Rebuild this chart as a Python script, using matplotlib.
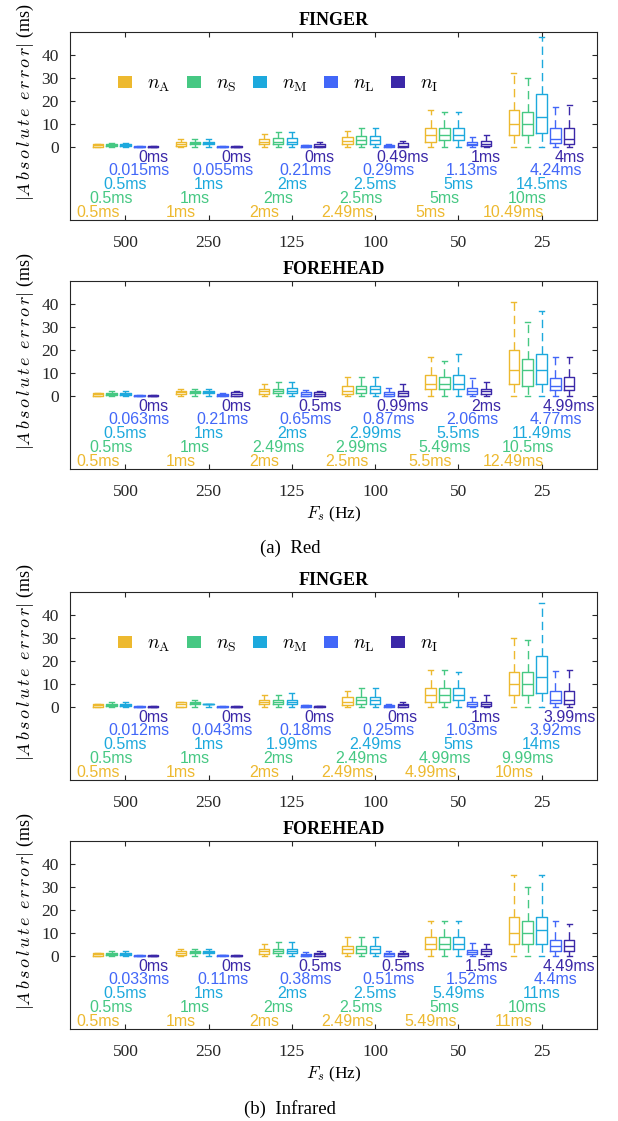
import numpy as np
import matplotlib
matplotlib.use('Agg')
import matplotlib.pyplot as plt
from matplotlib.patches import Patch

plt.rcParams['font.family'] = 'serif'
plt.rcParams['font.serif'] = ['Liberation Serif', 'DejaVu Serif']
plt.rcParams['mathtext.fontset'] = 'cm'
plt.rcParams['lines.scale_dashes'] = False

freqs = ['500', '250', '125', '100', '50', '25']
names = [r'$n_{\mathrm{A}}$', r'$n_{\mathrm{S}}$', r'$n_{\mathrm{M}}$', r'$n_{\mathrm{L}}$', r'$n_{\mathrm{I}}$']
colors = ['#EDB92F', '#46C883', '#1DA9DD', '#4267F8', '#3B28A8']

# ---- Red, finger (rows: nA, nS, nM, nL, nI ; cols: 500..25 Hz)
rf_q1 = [[0, 0.3, 1, 1, 2, 5], [0.2, 1, 1, 1, 3, 5], [0.2, 1, 1, 1, 3, 6],
         [0, 0, 0, 0, 0.7, 1.4], [0, 0, 0, 0, 0.4, 1]]
rf_med = [[0.5, 1, 2.2, 2.5, 5, 10], [0.5, 1.5, 2, 2.9, 5, 10], [0.5, 1.5, 2, 2.9, 5, 13],
          [0, 0, 0.2, 0.2, 1.3, 3.2], [0, 0, 0.3, 0.4, 1.3, 3.2]]
rf_q3 = [[1, 2.2, 3.2, 4, 8, 16], [1, 2, 3.6, 4.6, 8, 15], [1, 2, 3.6, 4.6, 8, 23],
         [0.1, 0.1, 0.6, 0.7, 2.2, 8], [0.1, 0.1, 1.2, 1.4, 2.6, 8]]
rf_hi = [[1.2, 3.3, 5.3, 7, 16, 32], [1.8, 3.3, 6.2, 8.2, 15, 30], [1.8, 3.3, 6.2, 8.2, 15, 48],
         [0.1, 0.1, 0.8, 1, 4.3, 17.4], [0.1, 0.1, 2.2, 2.4, 5, 18]]
rf_text = [['0.5ms', '1ms', '2ms', '2.49ms', '5ms', '10.49ms'],
           ['0.5ms', '1ms', '2ms', '2.5ms', '5ms', '10ms'],
           ['0.5ms', '1ms', '2ms', '2.5ms', '5ms', '14.5ms'],
           ['0.015ms', '0.055ms', '0.21ms', '0.29ms', '1.13ms', '4.24ms'],
           ['0ms', '0ms', '0ms', '0.49ms', '1ms', '4ms']]

# ---- Red, forehead
rh_q1 = [[0, 0.5, 0.5, 0.5, 3, 5], [0.2, 1, 1, 1, 3, 4], [0.2, 1, 1, 1, 3, 5],
         [0, 0, 0, 0, 0.7, 2.5], [0, 0, 0, 0, 0.7, 2.5]]
rh_med = [[0.5, 1.5, 2, 2, 5, 11], [0.5, 1.5, 2, 3, 5, 11], [0.5, 1.5, 2, 3, 5, 11],
          [0, 0.2, 0.8, 0.8, 2.2, 4], [0, 0.5, 0.5, 1, 1.9, 4]]
rh_q3 = [[1, 2, 3, 4, 9, 20], [1, 2, 3, 4, 8, 16], [1, 2, 3.5, 4, 9, 18],
         [0.1, 0.5, 1.5, 1.5, 3.3, 7.7], [0.1, 1.5, 1.5, 2, 2.9, 8]]
rh_hi = [[1, 3, 5, 8, 16.7, 41], [2, 3, 6, 8, 15, 32], [2, 3, 6, 8, 18, 37],
         [0.1, 1, 2.5, 3.4, 7.7, 16.7], [0.1, 2, 2, 5, 6.1, 16.7]]
rh_text = [['0.5ms', '1ms', '2ms', '2.5ms', '5.5ms', '12.49ms'],
           ['0.5ms', '1ms', '2.49ms', '2.99ms', '5.49ms', '10.5ms'],
           ['0.5ms', '1ms', '2ms', '2.99ms', '5.5ms', '11.49ms'],
           ['0.063ms', '0.21ms', '0.65ms', '0.87ms', '2.06ms', '4.77ms'],
           ['0ms', '0ms', '0.5ms', '0.99ms', '2ms', '4.99ms']]

# ---- Infrared, finger
if_q1 = [[0, 0, 1, 0.5, 2, 5], [0.2, 1, 1, 1, 2, 5], [0.2, 1, 1, 1, 3, 6],
         [0, 0, 0, 0, 0.3, 1.5], [0, 0, 0, 0, 0.3, 1]]
if_med = [[0.5, 1, 2, 2, 5, 10], [0.5, 1.5, 2, 3, 5, 10], [0.5, 1, 2, 3, 5, 13],
          [0, 0, 0.2, 0.2, 1, 3], [0, 0, 0.1, 0.5, 1, 3]]
if_q3 = [[1, 2, 3, 4, 8, 15], [1, 2, 3, 4, 8, 15], [1, 1.2, 3, 4, 8, 22],
         [0.1, 0.1, 0.5, 0.5, 2, 7], [0.1, 0.1, 0.3, 1, 2, 7]]
if_hi = [[1, 2, 5, 7, 16, 30], [2, 3, 5, 8, 16, 29], [2, 1.2, 6, 8, 15, 45],
         [0.1, 0.1, 0.8, 1, 4, 15.6], [0.1, 0.1, 0.3, 2, 5, 16]]
if_text = [['0.5ms', '1ms', '2ms', '2.49ms', '4.99ms', '10ms'],
           ['0.5ms', '1ms', '2ms', '2.49ms', '4.99ms', '9.99ms'],
           ['0.5ms', '1ms', '1.99ms', '2.49ms', '5ms', '14ms'],
           ['0.012ms', '0.043ms', '0.18ms', '0.25ms', '1.03ms', '3.92ms'],
           ['0ms', '0ms', '0ms', '0ms', '1ms', '3.99ms']]

# ---- Infrared, forehead
ih_q1 = [[0, 0.3, 0.5, 1, 3, 5], [0.2, 1, 1, 1, 3, 5], [0.2, 1, 1, 1, 3, 5],
         [0, 0, 0, 0, 0.5, 2], [0, 0, 0, 0, 0.7, 2]]
ih_med = [[0.5, 1, 2, 3, 5, 10], [0.5, 1.5, 2, 3, 5, 10], [0.5, 1.5, 2, 3, 5, 11],
          [0, 0.1, 0.2, 0.5, 1.5, 4], [0, 0, 0.5, 0.5, 2, 4]]
ih_q3 = [[1, 2, 3, 4, 8, 17], [1, 2, 3, 4, 8, 15], [1, 2, 3, 4, 8, 17],
         [0.1, 0.3, 0.5, 1, 2.5, 7], [0.1, 0.1, 1, 1, 3, 7]]
ih_hi = [[1, 3, 5, 8, 15, 35], [2, 3, 6, 8, 15, 30], [2, 3, 6, 8, 15, 35],
         [0.1, 0.3, 1.5, 2, 5.4, 15], [0.1, 0.1, 2, 2, 5, 14]]
ih_text = [['0.5ms', '1ms', '2ms', '2.49ms', '5.49ms', '11ms'],
           ['0.5ms', '1ms', '2ms', '2.5ms', '5ms', '10ms'],
           ['0.5ms', '1ms', '2ms', '2.5ms', '5.49ms', '11ms'],
           ['0.033ms', '0.11ms', '0.38ms', '0.51ms', '1.52ms', '4.4ms'],
           ['0ms', '0ms', '0.5ms', '0.5ms', '1.5ms', '4.49ms']]

text_rows = [-28.6, -22.6, -16.6, -10.6, -4.6]   # y of the per-box labels, nA..nI
W, H = 618, 1121
ylab = r'$|A\,b\,s\,o\,l\,u\,t\,e\;\;e\,r\,r\,o\,r|$ (ms)'


def panel(top, bottom):
    return fig.add_axes([70 / W, 1 - bottom / H, 527 / W, (bottom - top) / H])


def draw(ax, title, q1, med, q3, hi, labels, legend=False, xlabel=False):
    x = np.arange(1, len(freqs) + 1)
    offs = (np.arange(5) - 2) / 6
    for k, c in enumerate(colors):
        stats = [dict(whislo=0, q1=q1[k][g], med=med[k][g], q3=q3[k][g], whishi=hi[k][g])
                 for g in range(len(freqs))]
        ax.bxp(stats, positions=x + offs[k], widths=0.125, capwidths=0.06,
               showfliers=False, manage_ticks=False,
               boxprops=dict(color=c, lw=1.0),
               whiskerprops=dict(color=c, lw=1.0, linestyle=(0, (6, 3.5))),
               capprops=dict(color=c, lw=1.0),
               medianprops=dict(color=c, lw=1.0))
        for g in range(len(freqs)):
            ax.text(x[g] + offs[k], text_rows[k], labels[k][g], color=c,
                    ha='center', va='center', fontsize=11.5, family='Liberation Sans')
    ax.set_xlim(1 / 3, len(freqs) + 2 / 3)
    ax.set_ylim(-32, 50)
    ax.set_xticks(x)
    ax.set_xticklabels(freqs)
    ax.set_yticks([0, 10, 20, 30, 40])
    ax.tick_params(axis='both', direction='in', top=True, right=True,
                   length=3.5, width=0.8, labelsize=12.5, colors='#262626')
    ax.tick_params(axis='x', pad=11)
    ax.tick_params(axis='y', pad=8)
    for s in ax.spines.values():
        s.set_color('#262626')
        s.set_linewidth(0.8)
    ax.set_title(title, fontsize=13, fontweight='bold', pad=5)
    ax.set_ylabel(ylab, fontsize=13)
    ax.yaxis.set_label_coords(-0.064, 0.625)
    if xlabel:
        ax.set_xlabel(r'$F_s$ (Hz)', fontsize=12.5, labelpad=3)
    if legend:
        handles = [Patch(facecolor=c, edgecolor='none') for c in colors]
        ax.legend(handles, names, ncol=5, frameon=False, fontsize=14,
                  loc='center', bbox_to_anchor=(0.395, 0.72),
                  handlelength=0.72, handleheight=0.57,
                  handletextpad=0.8, columnspacing=0.82)


fig = plt.figure(figsize=(W / 100, H / 100), dpi=100)

draw(panel(32, 220), 'FINGER', rf_q1, rf_med, rf_q3, rf_hi, rf_text, legend=True)
draw(panel(281, 469), 'FOREHEAD', rh_q1, rh_med, rh_q3, rh_hi, rh_text, xlabel=True)
draw(panel(592, 780), 'FINGER', if_q1, if_med, if_q3, if_hi, if_text, legend=True)
draw(panel(841, 1029), 'FOREHEAD', ih_q1, ih_med, ih_q3, ih_hi, ih_text, xlabel=True)

fig.text(290 / W, 1 - 548 / H, '(a)  Red', ha='center', va='center', fontsize=13.5)
fig.text(290 / W, 1 - 1109 / H, '(b)  Infrared', ha='center', va='center', fontsize=13.5)

fig.savefig('out.png', dpi=100)
